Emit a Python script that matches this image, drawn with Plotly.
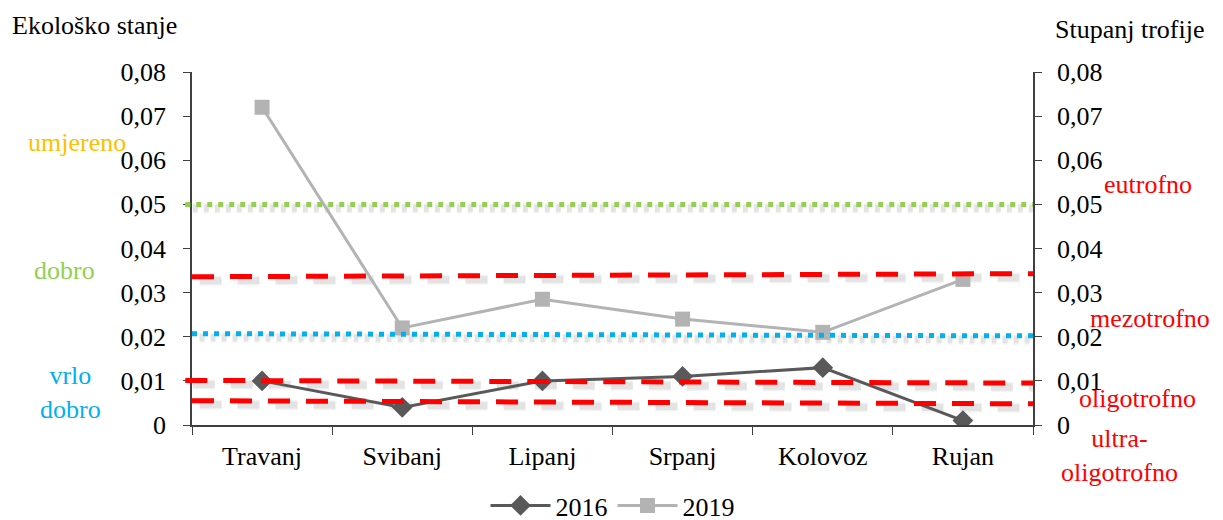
import plotly.graph_objects as go

# Data
# ----------------------
months = ['Travanj', 'Svibanj', 'Lipanj', 'Srpanj', 'Kolovoz', 'Rujan']
v2016 = [0.010, 0.004, 0.010, 0.011, 0.013, 0.001]
v2019 = [0.072, 0.022, 0.0285, 0.024, 0.021, 0.033]

# threshold lines (value at left edge, value at right edge)
eco_moderate = [0.050, 0.050]        # umjereno / dobro
eco_good = [0.0207, 0.0202]          # dobro / vrlo dobro
tro_eutro = [0.0336, 0.0343]         # eutrofno / mezotrofno
tro_mezo = [0.0101, 0.0095]          # mezotrofno / oligotrofno
tro_oligo = [0.0055, 0.0048]         # oligotrofno / ultra-oligotrofno

y_ticks = [0, 0.01, 0.02, 0.03, 0.04, 0.05, 0.06, 0.07, 0.08]

FONT = '"Liberation Serif", "Times New Roman", Times, serif'
FS = 26

fig = go.Figure()

fig.add_trace(go.Scatter(x=months, y=v2016, name='2016', mode='lines+markers',
                         line=dict(color='#595959', width=3),
                         marker=dict(symbol='diamond', size=16, color='#595959')))
fig.add_trace(go.Scatter(x=months, y=v2019, name='2019', mode='lines+markers',
                         line=dict(color='#B3B3B3', width=3),
                         marker=dict(symbol='square', size=15, color='#B3B3B3')))
# dummy trace so that the right axis gets drawn
fig.add_trace(go.Scatter(x=months, y=v2016, yaxis='y2', mode='lines', opacity=0,
                         showlegend=False, hoverinfo='skip'))

# threshold lines with a soft shadow
def add_level(vals, color, dash, width, x0=0):
    for k, a in enumerate([0.10, 0.07]):
        fig.add_shape(type='line', xref='paper', yref='y', x0=x0 + 0.009, x1=1.0,
                      y0=vals[0] - 0.0009, y1=vals[1] - 0.0009,
                      line=dict(color='rgba(90,90,90,%.2f)' % a, width=width + 2 + 3 * k, dash=dash),
                      layer='below')
    fig.add_shape(type='line', xref='paper', yref='y', x0=x0, x1=1.0,
                  y0=vals[0], y1=vals[1],
                  line=dict(color=color, width=width, dash=dash))

add_level(eco_moderate, '#92D050', '5px,6px', 5, x0=-0.008)
add_level(eco_good, '#00B0F0', '5px,6px', 5)
add_level(tro_eutro, '#FF0000', '22px,16px', 5)
add_level(tro_mezo, '#FF0000', '22px,16px', 5, x0=-0.008)
add_level(tro_oligo, '#FF0000', '22px,16px', 5)

# class labels (paper x, paper y)
labels = [
    ('umjereno', -0.137, 0.799, '#FFC000'),
    ('dobro', -0.152, 0.439, '#92D050'),
    ('vrlo<br>dobro', -0.145, 0.091, '#00B0F0'),
    ('eutrofno', 1.137, 0.680, '#FF0000'),
    ('mezotrofno', 1.139, 0.303, '#FF0000'),
    ('oligotrofno', 1.124, 0.076, '#FF0000'),
    ('ultra-<br>oligotrofno', 1.103, -0.085, '#FF0000'),
]
for txt, xp, yp, col in labels:
    fig.add_annotation(text=txt, xref='paper', yref='paper', x=xp, y=yp,
                       showarrow=False, font=dict(family=FONT, size=FS, color=col),
                       xanchor='center', yanchor='middle', align='center')

fig.add_annotation(text='Ekološko stanje', xref='paper', yref='paper', x=-0.217, y=1.133,
                   xanchor='left', yanchor='middle', showarrow=False,
                   font=dict(family=FONT, size=FS, color='black'))
fig.add_annotation(text='Stupanj trofije', xref='paper', yref='paper', x=1.024, y=1.12,
                   xanchor='left', yanchor='middle', showarrow=False,
                   font=dict(family=FONT, size=FS, color='black'))

axis_common = dict(range=[0, 0.08], tickvals=y_ticks, showgrid=False, zeroline=False,
                   showline=True, linecolor='#404040', linewidth=1.5,
                   ticks='outside', ticklen=7, tickcolor='#404040', ticklabelstandoff=12,
                   tickfont=dict(family=FONT, size=FS, color='black'))

# page body has an 8px margin, so the margins are shifted by that amount
fig.update_layout(
    width=1223, height=520,
    margin=dict(l=184, r=198, t=64, b=103, autoexpand=False),
    plot_bgcolor='white', paper_bgcolor='white',
    separators=', ',
    font=dict(family=FONT, size=FS, color='black'),
    xaxis=dict(type='category', range=[-0.5, 5.5], showgrid=False, zeroline=False,
               showline=True, linecolor='#404040', linewidth=1.5,
               ticks='outside', tickson='boundaries', ticklen=8, tickcolor='#404040',
               ticklabelstandoff=7,
               tickfont=dict(family=FONT, size=FS, color='black')),
    yaxis=axis_common,
    yaxis2=dict(overlaying='y', side='right', **dict(axis_common, ticklabelstandoff=10)),
    legend=dict(orientation='h', x=0.5, xanchor='center', y=-0.228, yanchor='middle',
                font=dict(family=FONT, size=FS, color='black'), itemwidth=60),
    showlegend=True,
)

fig.write_html("out.html")
